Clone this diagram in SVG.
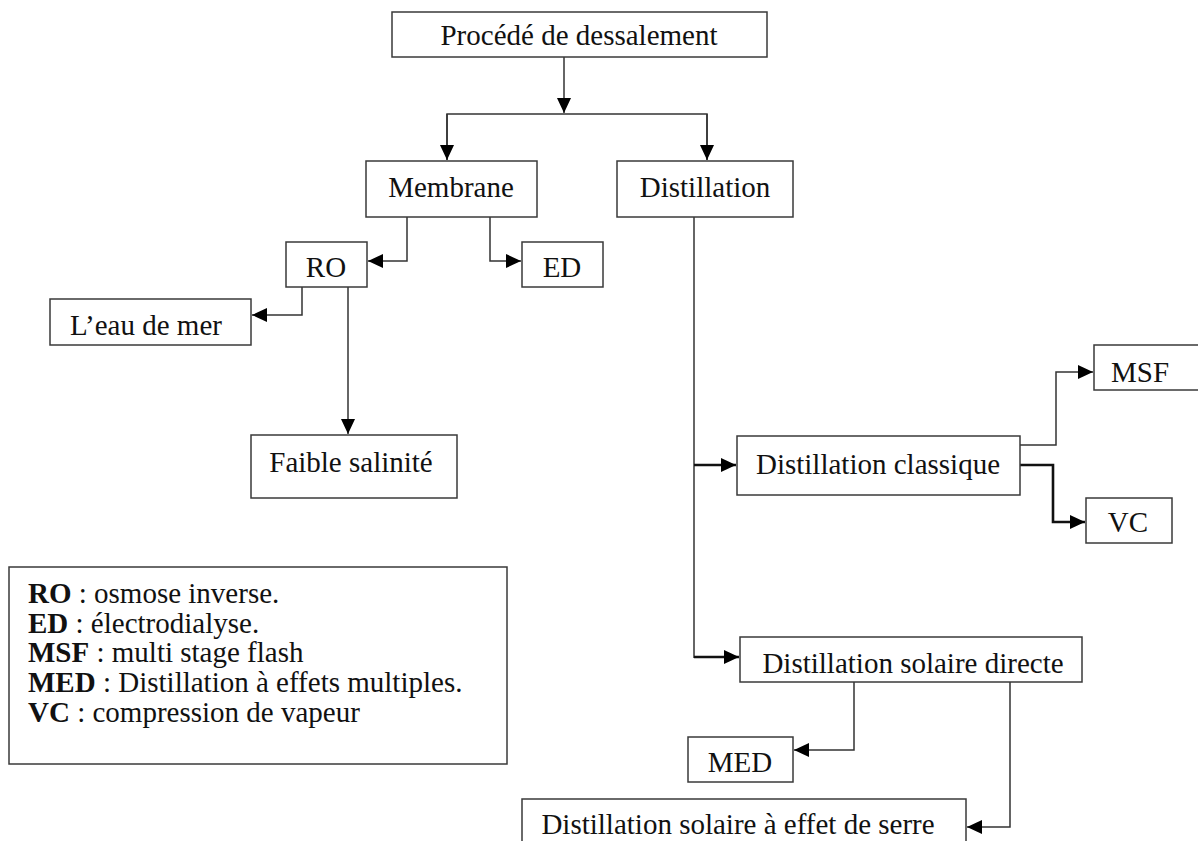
<svg xmlns="http://www.w3.org/2000/svg" width="1198" height="841" viewBox="0 0 1198 841">
<style>
.box{fill:#fff;stroke:#3a3a3a;stroke-width:1.5}
.t{font-family:"Liberation Serif","Times New Roman",serif;font-size:29px;fill:#111;text-anchor:middle}
.lg{font-family:"Liberation Serif","Times New Roman",serif;font-size:29px;fill:#111}
.c{fill:none;stroke:#333;stroke-width:1.5}
.ck{fill:none;stroke:#111;stroke-width:2.6}
</style>
<defs>
<marker id="a" markerUnits="userSpaceOnUse" markerWidth="16" markerHeight="14" refX="15" refY="7" orient="auto">
<path d="M0,0 L15,7 L0,14 Z" fill="#000"/>
</marker>
</defs>
<rect width="1198" height="841" fill="#fff"/>
<g id="connectors">
<path class="c" d="M564,57 V113" marker-end="url(#a)"/>
<path class="c" d="M447,160 V114 H707 V160"/>
<path class="c" d="M447,114 V160" marker-end="url(#a)"/>
<path class="c" d="M707,114 V160" marker-end="url(#a)"/>
<path class="c" d="M407,217 V261 H368" marker-end="url(#a)"/>
<path class="c" d="M490,217 V261 H521" marker-end="url(#a)"/>
<path class="c" d="M302,287 V315 H252" marker-end="url(#a)"/>
<path class="c" d="M348,286 V434" marker-end="url(#a)"/>
<path class="c" d="M694,217 V658"/>
<path class="ck" d="M694,465 H736" marker-end="url(#a)"/>
<path class="ck" d="M694,657 H739" marker-end="url(#a)"/>
<path class="c" d="M1020,445 H1056 V372 H1093" marker-end="url(#a)"/>
<path class="ck" d="M1020,465 H1053 V522 H1085" marker-end="url(#a)"/>
<path class="c" d="M854,682 V750 H794" marker-end="url(#a)"/>
<path class="c" d="M1010,682 V827 H967" marker-end="url(#a)"/>
</g>
<g id="n-procede"><rect class="box" x="392" y="12" width="375" height="45"/><text class="t" x="579" y="45">Procédé de dessalement</text></g>
<g id="n-membrane"><rect class="box" x="366" y="161" width="171" height="56"/><text class="t" x="451" y="197">Membrane</text></g>
<g id="n-distillation"><rect class="box" x="617" y="161" width="176" height="56"/><text class="t" x="705" y="197">Distillation</text></g>
<g id="n-ro"><rect class="box" x="286" y="242" width="81" height="45"/><text class="t" x="326" y="277">RO</text></g>
<g id="n-ed"><rect class="box" x="522" y="242" width="81" height="45"/><text class="t" x="562" y="277">ED</text></g>
<g id="n-eau"><rect class="box" x="50" y="299" width="201" height="46"/><text class="t" x="146" y="335">L’eau de mer</text></g>
<g id="n-faible"><rect class="box" x="251" y="435" width="206" height="63"/><text class="t" x="351" y="472">Faible salinité</text></g>
<g id="n-classique"><rect class="box" x="737" y="436" width="283" height="59"/><text class="t" x="878" y="474">Distillation classique</text></g>
<g id="n-msf"><rect class="box" x="1094" y="345" width="110" height="45"/><text class="t" x="1140" y="382">MSF</text></g>
<g id="n-vc"><rect class="box" x="1086" y="498" width="86" height="45"/><text class="t" x="1128" y="532">VC</text></g>
<g id="n-directe"><rect class="box" x="740" y="637" width="342" height="45"/><text class="t" x="913" y="673">Distillation solaire directe</text></g>
<g id="n-med"><rect class="box" x="688" y="737" width="105" height="45"/><text class="t" x="740" y="772">MED</text></g>
<g id="n-serre"><rect class="box" x="522" y="799" width="444" height="60"/><text class="t" x="738" y="834">Distillation solaire à effet de serre</text></g>
<g id="legend">
<rect class="box" x="9" y="567" width="498" height="197"/>
<text class="lg" x="28" y="603"><tspan font-weight="bold">RO</tspan> : osmose inverse.</text>
<text class="lg" x="28" y="633"><tspan font-weight="bold">ED</tspan> : électrodialyse.</text>
<text class="lg" x="28" y="662"><tspan font-weight="bold">MSF</tspan> : multi stage flash</text>
<text class="lg" x="28" y="692"><tspan font-weight="bold">MED</tspan> : Distillation à effets multiples.</text>
<text class="lg" x="28" y="722"><tspan font-weight="bold">VC</tspan> : compression de vapeur</text>
</g>
</svg>
